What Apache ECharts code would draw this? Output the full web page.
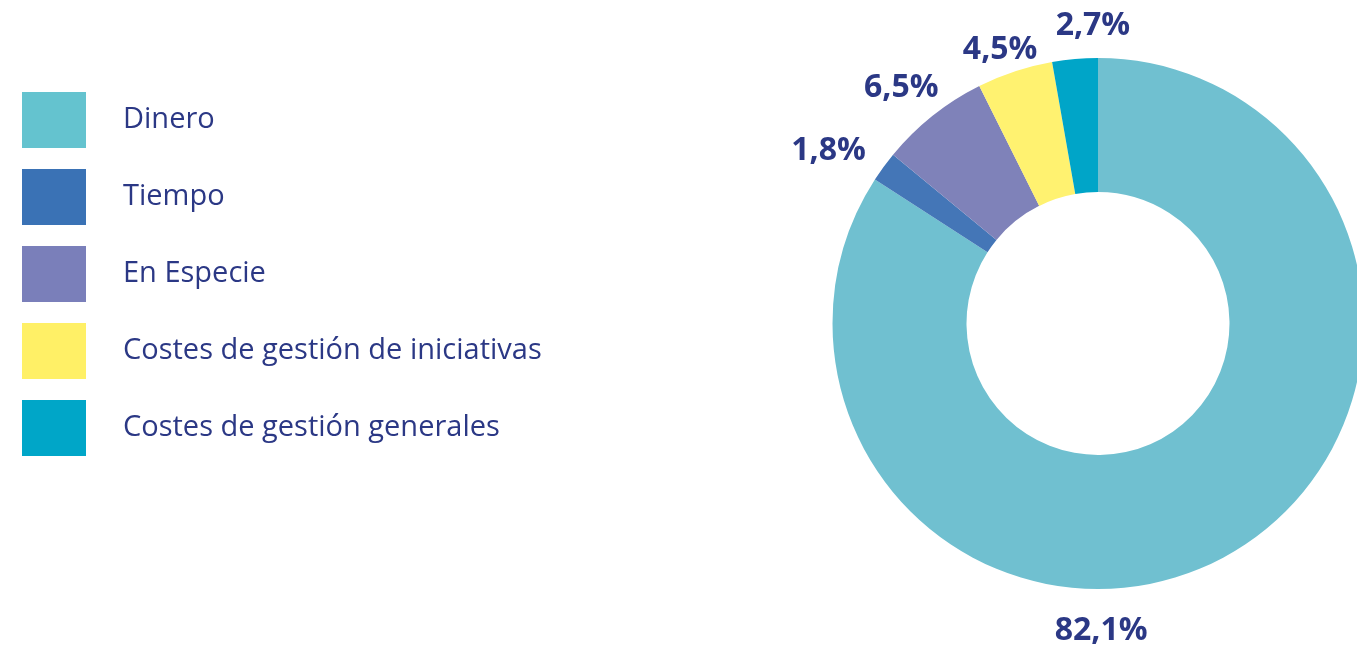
<!DOCTYPE html>
<html>
<head>
<meta charset="utf-8">
<script src="https://cdn.jsdelivr.net/npm/echarts@6/dist/echarts.min.js"></script>
<style>
html,body{margin:0;padding:0;background:#fff;}
#main{width:1357px;height:652px;}
</style>
</head>
<body>
<div id="main"></div>
<script>
// Data
const categories = ['Dinero', 'Tiempo', 'En Especie', 'Costes de gestión de iniciativas', 'Costes de gestión generales'];
const values = [82.1, 1.8, 6.5, 4.5, 2.7];
const valueLabels = ['82,1%', '1,8%', '6,5%', '4,5%', '2,7%'];

// Styles
const sliceColors = ['#70c0d0', '#4476b7', '#7f82b9', '#fff270', '#00a5c8'];
const legendColors = ['#64c3cf', '#3a72b5', '#7a7fba', '#fff066', '#00a6c8'];
const textColor = '#2b3885';

// Layout
const CX = 1098, CY = 323.5, R_IN = 131.5, R_OUT = 265.5;
const labelAngleShift = [28, -3.5, -1.3, -1.4, 4];
const labelRadius = [307.5, 320, 307, 291, 298];

const total = values.reduce((a, b) => a + b, 0);
const midAngles = [];
let acc = 0;
values.forEach(v => { midAngles.push((acc + v / 2) / total * 360); acc += v; });

const chart = echarts.init(document.getElementById('main'), null, {renderer: 'canvas'});
chart.setOption({
  animation: false,
  legend: {
    orient: 'vertical',
    left: 22,
    top: 92,
    padding: 0,
    itemWidth: 64,
    itemHeight: 56,
    itemGap: 21,
    icon: 'rect',
    selectedMode: false,
    data: categories.map((c, i) => ({name: c, itemStyle: {color: legendColors[i]}})),
    textStyle: {
      color: textColor,
      fontFamily: 'Open Sans',
      fontSize: 29,
      padding: [0, 0, 0, 32]
    }
  },
  series: [{
    type: 'pie',
    center: [CX, CY],
    radius: [R_IN, R_OUT],
    startAngle: 90,
    clockwise: true,
    silent: true,
    data: categories.map((c, i) => ({name: c, value: values[i], itemStyle: {color: sliceColors[i]}})),
    label: {
      show: true,
      position: 'outside',
      overflow: 'none',
      formatter: p => valueLabels[p.dataIndex],
      color: textColor,
      fontFamily: 'Open Sans',
      fontWeight: 700,
      fontSize: 32
    },
    labelLine: {show: false},
    labelLayout: function (params) {
      const i = params.dataIndex;
      const a = (midAngles[i] + labelAngleShift[i]) * Math.PI / 180;
      return {
        x: CX + labelRadius[i] * Math.sin(a),
        y: CY - labelRadius[i] * Math.cos(a),
        align: 'center',
        verticalAlign: 'middle'
      };
    }
  }]
});
</script>
</body>
</html>
